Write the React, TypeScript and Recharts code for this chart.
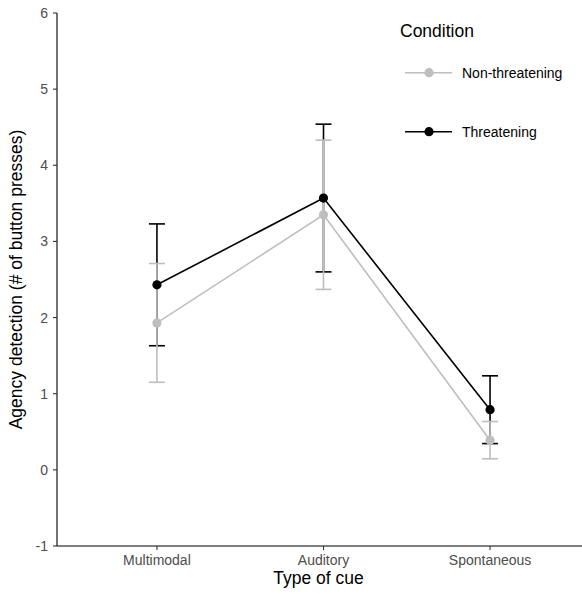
import { LineChart, Line, XAxis, YAxis, ErrorBar, Label } from "recharts";

// Mean button presses (± error) per cue type and condition
const categories = ["Multimodal", "Auditory", "Spontaneous"];
const nonThreateningMean = [1.93, 3.35, 0.39];
const nonThreateningErr = [0.78, 0.98, 0.245];
const threateningMean = [2.43, 3.57, 0.79];
const threateningErr = [0.8, 0.97, 0.445];
const yTicks = [-1, 0, 1, 2, 3, 4, 5, 6];

const conditions = [
  { name: "Non-threatening", color: "#BEBEBE" },
  { name: "Threatening", color: "#000000" },
];

const data = categories.map((cue, i) => ({
  x: i,
  cue,
  nt: nonThreateningMean[i],
  ntErr: nonThreateningErr[i],
  t: threateningMean[i],
  tErr: threateningErr[i],
}));

const FONT = '"Liberation Sans", Arial, sans-serif';
const TICK = { fontSize: 14, fill: "#4D4D4D", fontFamily: FONT };
const AXIS_LINE = { stroke: "#000", strokeWidth: 1.1 };
const TICK_LINE = { stroke: "#333", strokeWidth: 1.1 };

function ConditionLegend() {
  return (
    <svg
      width={200}
      height={160}
      style={{ position: "absolute", left: 380, top: 0, fontFamily: FONT }}
    >
      <text x={20} y={37} fontSize={17.5} fill="#000">
        Condition
      </text>
      {conditions.map((c, i) => {
        const y = 72.7 + i * 59;
        return (
          <g key={c.name}>
            <line x1={25} x2={72} y1={y} y2={y} stroke={c.color} strokeWidth={1.6} />
            <circle cx={49} cy={y} r={4.6} fill={c.color} />
            <text x={82} y={y + 5} fontSize={14} fill="#000">
              {c.name}
            </text>
          </g>
        );
      })}
    </svg>
  );
}

export default function App() {
  return (
    <div style={{ position: "relative", width: 582, height: 594, overflow: "hidden", background: "#fff" }}>
      <style>{"body{margin:0}"}</style>
      <LineChart
        width={590}
        height={594}
        data={data}
        margin={{ top: 13, right: 0, bottom: 0, left: 0 }}
        style={{ fontFamily: FONT }}
      >
        <XAxis
          dataKey="x"
          type="number"
          domain={[-0.6, 2.6]}
          ticks={[0, 1, 2]}
          tickFormatter={(i) => categories[i] ?? ""}
          tick={TICK}
          axisLine={AXIS_LINE}
          tickLine={TICK_LINE}
          tickSize={4}
          tickMargin={5}
          height={48}
          allowDataOverflow
        >
          <Label
            value="Type of cue"
            position="insideBottom"
            offset={10}
            dx={-5}
            style={{ fontSize: 17.5, fill: "#000", fontFamily: FONT }}
          />
        </XAxis>
        <YAxis
          type="number"
          domain={[-1, 6]}
          ticks={yTicks}
          tick={TICK}
          axisLine={AXIS_LINE}
          tickLine={TICK_LINE}
          tickSize={4}
          tickMargin={5}
          width={57}
          allowDataOverflow
        >
          <Label
            value="Agency detection (# of button presses)"
            angle={-90}
            position="insideLeft"
            offset={16}
            style={{ fontSize: 17.5, fill: "#000", fontFamily: FONT, textAnchor: "middle" }}
          />
        </YAxis>

        {/* error bars first so the lines and points sit on top */}
        <Line dataKey="t" stroke="none" dot={false} activeDot={false} isAnimationActive={false} legendType="none">
          <ErrorBar dataKey="tErr" direction="y" width={8} stroke="#000" strokeWidth={1.6} />
        </Line>
        <Line dataKey="nt" stroke="none" dot={false} activeDot={false} isAnimationActive={false} legendType="none">
          <ErrorBar dataKey="ntErr" direction="y" width={8} stroke="#BEBEBE" strokeWidth={1.6} />
        </Line>

        <Line
          dataKey="nt"
          name="Non-threatening"
          type="linear"
          stroke="#BEBEBE"
          strokeWidth={1.6}
          dot={{ r: 4.6, fill: "#BEBEBE", stroke: "none" }}
          activeDot={false}
          isAnimationActive={false}
        />
        <Line
          dataKey="t"
          name="Threatening"
          type="linear"
          stroke="#000"
          strokeWidth={1.6}
          dot={{ r: 4.6, fill: "#000", stroke: "none" }}
          activeDot={false}
          isAnimationActive={false}
        />
      </LineChart>
      <ConditionLegend />
    </div>
  );
}
